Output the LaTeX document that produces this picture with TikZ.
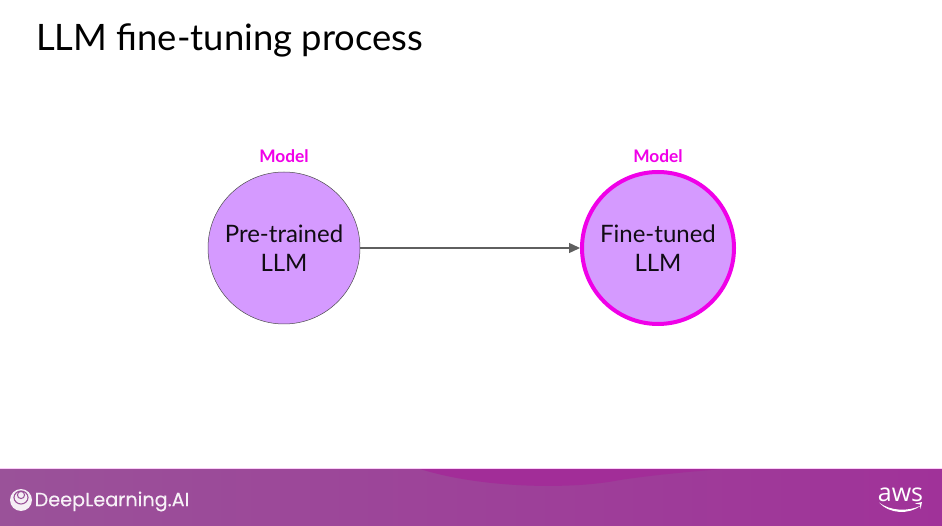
\documentclass[tikz,border=0pt]{standalone}
\usepackage{fontspec}
\setmainfont{Lato}
\newfontfamily\brandfont[FakeBold=0.35]{Poppins}
\newfontfamily\awsfont{Open Sans}
\usetikzlibrary{arrows.meta}
\definecolor{bandleft}{HTML}{9A5299}
\definecolor{bandright}{HTML}{A03299}
\definecolor{bandarc}{HTML}{A22D98}
\definecolor{disc}{HTML}{D59AFF}
\definecolor{accent}{HTML}{F000E8}
\definecolor{wire}{HTML}{5F5F5F}
\tikzset{
  model/.style={circle,fill=disc,minimum size=152pt,inner sep=0pt,align=center,
    text=black!92!disc,font=\fontsize{24}{28.5}\selectfont},
  plain/.style={model,draw=black!70,line width=0.5pt},
  tuned/.style={model,draw=accent,line width=4pt,minimum size=152pt},
  tag/.style={text=accent,font=\fontsize{17.3}{20}\selectfont\bfseries,inner sep=0pt},
  flow/.style={draw=wire,line width=1.4pt,-{Triangle[length=11pt,width=10pt]}},
}
\begin{document}
\begin{tikzpicture}[x=1pt,y=-1pt]
  \useasboundingbox (0,0) rectangle (942,526);
  \fill[white] (0,0) rectangle (942,526);

  % footer band with its darker swoosh
  \shade[left color=bandleft,right color=bandright] (0,468.6) rectangle (942,526);
  \fill[bandarc] (420,469) .. controls (480,488) and (570,490) .. (620,480)
     .. controls (660,474) and (700,471) .. (722,469) -- cycle;
  \draw[white!80!accent,line width=0.5pt] (0,468.6) -- (942,468.6);

  \node[anchor=west,inner sep=0pt,font=\fontsize{36.4}{44}\selectfont] (title) at (36,40.5) {LLM fine-tuning process};

  \node[plain] (pre) at (284,248) {Pre-trained\\LLM};
  \node[tuned] (fine) at (658,248) {Fine-tuned\\LLM};
  \node[tag] (pretag) at (284,156) {Model};
  \node[tag] (finetag) at (658,156) {Model};
  \draw[flow] (pre) -- (fine);

  % DeepLearning.AI mark and wordmark
  \fill[white!90!bandleft] (21,500) circle (11pt);
  \draw[bandleft,line width=1.1pt] (21,497.5) ellipse (7pt and 6.5pt);
  \draw[bandleft,line width=1pt] (21,495) circle (3.6pt);
  \node[anchor=west,inner sep=0pt,text=white!92!bandleft,font=\brandfont\fontsize{19.2}{22}\selectfont] (brand) at (34.5,501.5) {DeepLearning.AI};

  % AWS wordmark and smile
  \node[inner sep=0pt,text=white,font=\awsfont\fontsize{25}{28}\selectfont] (aws) at (900.5,494.5) {aws};
  \fill[white] (879,502.5) .. controls (890,511) and (908,512) .. (921,505.5)
     .. controls (909,515) and (889,514) .. (879,502.5) -- cycle;
  \fill[white] (915,503.5) -- (922,502) -- (920.5,509) -- (920,504.5) -- cycle;
\end{tikzpicture}
\end{document}
